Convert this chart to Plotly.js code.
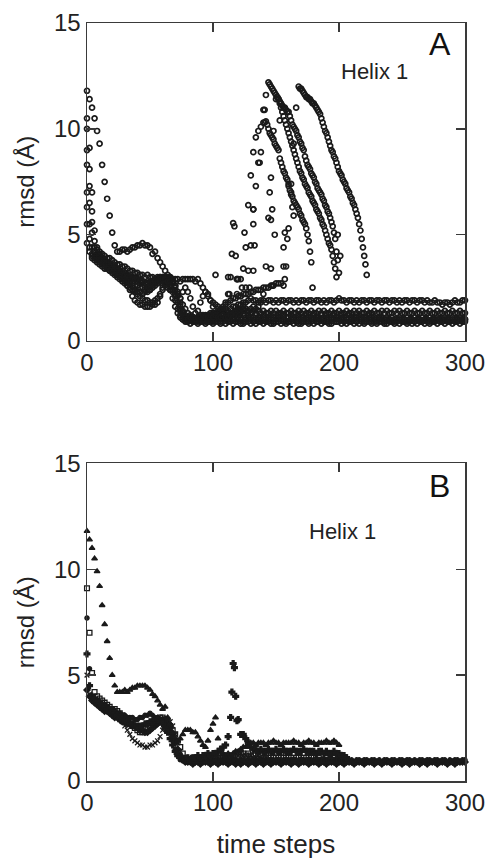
<!DOCTYPE html>
<html>
<head>
<meta charset="utf-8">
<script src="https://cdn.plot.ly/plotly-3.0.1.min.js"></script>
<style>
  html, body { margin: 0; padding: 0; background: #fff; }
  #chart { width: 490px; height: 859px; }
</style>
</head>
<body>
<div id="chart"></div>
<script>
// Sampling grid shared by all trajectories (time steps, every 2nd step)
const timeSteps = [
  0, 2, 4, 6, 8, 10, 12, 14, 16, 18,
  20, 22, 24, 26, 28, 30, 32, 34, 36, 38,
  40, 42, 44, 46, 48, 50, 52, 54, 56, 58,
  60, 62, 64, 66, 68, 70, 72, 74, 76, 78,
  80, 82, 84, 86, 88, 90, 92, 94, 96, 98,
  100, 102, 104, 106, 108, 110, 112, 114, 116, 118,
  120, 122, 124, 126, 128, 130, 132, 134, 136, 138,
  140, 142, 144, 146, 148, 150, 152, 154, 156, 158,
  160, 162, 164, 166, 168, 170, 172, 174, 176, 178,
  180, 182, 184, 186, 188, 190, 192, 194, 196, 198,
  200, 202, 204, 206, 208, 210, 212, 214, 216, 218,
  220, 222, 224, 226, 228, 230, 232, 234, 236, 238,
  240, 242, 244, 246, 248, 250, 252, 254, 256, 258,
  260, 262, 264, 266, 268, 270, 272, 274, 276, 278,
  280, 282, 284, 286, 288, 290, 292, 294, 296, 298,
  300
];

// ---------- Panel A: rmsd (Å) of each run ----------
const runA1 = [
  11.8, 11.4, 11.0, 10.5, 9.9, 9.3, 8.3, 7.5, 6.7, 5.9,
  5.1, 4.5, 4.2, 4.2, 4.3, 4.3, 4.2, 4.3, 4.4, 4.4,
  4.5, 4.5, 4.6, 4.5, 4.5, 4.4, 4.1, 4.2, 3.9, 3.7,
  3.5, 3.3, 3.1, 3.0, 2.9, 2.9, 2.9, 2.8, 2.9, 2.9,
  2.9, 2.9, 2.9, 2.8, 2.9, 2.7, 2.5, 2.3, 2.1, 1.9,
  1.8, 1.7, 1.6, 1.5, 1.4, 1.5, 1.4, 1.5, 1.6, 1.6,
  1.7, 1.7, 1.8, 1.8, 1.9, 2.0, 1.9, 1.9, 1.8, 1.9,
  1.9, 1.8, 1.9, 1.9, 1.8, 1.9, 1.8, 1.9, 1.9, 1.8,
  1.9, 1.9, 1.8, 1.9, 1.8, 1.9, 1.9, 1.8, 1.9, 1.9,
  1.8, 1.9, 1.9, 1.8, 1.9, 1.8, 1.9, 1.9, 1.8, 1.9,
  2.0, 1.9, 1.9, 1.8, 1.9, 1.9, 1.8, 1.9, 1.8, 1.9,
  1.9, 1.8, 1.9, 1.9, 1.8, 1.9, 1.9, 1.8, 1.9, 1.9,
  1.8, 1.9, 1.9, 1.8, 1.9, 1.8, 1.9, 1.9, 1.8, 1.9,
  1.9, 1.8, 1.9, 1.9, 1.8, 1.9, 1.8, 1.8, 1.9, 1.8,
  1.8, 1.7, 1.8, 1.8, 1.7, 1.8, 1.9, 1.8, 1.8, 1.9,
  1.9
];
const runA2 = [
  10.0, 8.1, 6.1, 4.7, 4.3, 4.2, 4.1, 4.0, 3.9, 3.9,
  3.8, 3.7, 3.6, 3.6, 3.5, 3.5, 3.4, 3.3, 3.3, 3.2,
  3.2, 3.1, 3.1, 3.0, 3.1, 3.0, 3.0, 2.9, 3.0, 2.9,
  2.9, 2.8, 2.7, 2.4, 2.0, 1.6, 1.3, 1.1, 1.0, 1.0,
  0.9, 1.0, 0.9, 1.0, 1.0, 0.9, 1.0, 0.9, 0.9, 1.0,
  0.9, 1.0, 1.0, 0.9, 1.0, 1.0, 0.9, 1.0, 1.0, 0.9,
  1.0, 1.0, 0.9, 1.0, 1.1, 1.0, 0.9, 1.0, 1.0, 0.9,
  1.0, 0.9, 1.0, 1.0, 0.9, 1.0, 1.1, 1.0, 1.0, 0.9,
  0.9, 1.0, 1.0, 0.9, 1.0, 0.9, 1.0, 1.0, 0.9, 1.0,
  1.0, 0.9, 1.0, 1.0, 0.9, 1.0, 0.9, 1.0, 1.0, 0.9,
  1.0, 1.0, 0.9, 1.0, 0.9, 1.0, 1.0, 0.9, 1.0, 1.0,
  0.9, 1.0, 1.0, 0.9, 1.0, 0.9, 1.0, 1.0, 0.9, 1.0,
  1.0, 0.9, 0.9, 1.0, 1.0, 0.9, 1.0, 0.9, 1.0, 1.0,
  0.9, 1.0, 1.0, 0.9, 1.0, 1.0, 0.9, 1.0, 0.9, 1.0,
  1.0, 0.9, 1.0, 1.0, 0.9, 1.0, 0.9, 1.0, 1.0, 0.9,
  1.0
];
const runA3 = [
  9.0, 7.3, 5.6, 4.4, 4.1, 4.0, 3.9, 3.8, 3.7, 3.6,
  3.5, 3.4, 3.3, 3.2, 3.1, 3.0, 2.9, 2.7, 2.6, 2.4,
  2.3, 2.3, 2.2, 2.3, 2.3, 2.4, 2.6, 2.8, 2.9, 3.0,
  3.0, 3.0, 2.9, 2.9, 2.8, 2.6, 2.3, 2.0, 1.7, 1.5,
  1.3, 1.2, 1.1, 1.0, 1.0, 1.1, 1.0, 1.0, 1.1, 1.0,
  1.1, 1.1, 1.2, 1.1, 1.2, 1.2, 1.3, 1.2, 1.3, 1.4,
  1.5, 2.9, 3.4, 4.4, 6.4, 7.8, 8.9, 9.6, 9.9, 10.1,
  10.3
];
// unfolding excursion of run A3, sampled every step
const peakA3_t = [
  141, 142, 143, 144, 145, 146, 147, 148, 149, 150,
  151, 152, 153, 154, 155, 156, 157, 158, 159, 160,
  161, 162, 163, 164, 165, 166, 167, 168, 169, 170,
  171, 172, 173, 174, 175, 176, 177, 178, 179
];
const peakA3_rmsd = [
  10.3, 10.35, 10.2, 10.0, 9.8, 9.7, 9.6, 9.5, 9.3, 9.2,
  9.1, 9.0, 8.6, 8.4, 8.2, 8.0, 7.9, 7.7, 7.6, 7.4,
  7.1, 7.0, 6.8, 6.6, 6.5, 6.4, 6.3, 6.2, 6.0, 5.9,
  5.7, 5.6, 5.5, 5.3, 5.0, 4.7, 4.2, 3.7, 2.5
];
const runA4 = [
  8.3, 6.5, 5.1, 4.2, 4.0, 3.9, 3.8, 3.7, 3.6, 3.5,
  3.4, 3.3, 3.2, 3.1, 3.0, 2.8, 2.6, 2.4, 2.1, 1.9,
  1.8, 1.7, 1.7, 1.6, 1.6, 1.6, 1.7, 1.7, 1.8, 2.1,
  2.4, 2.7, 2.9, 3.0, 2.9, 2.6, 2.2, 1.8, 1.4, 1.2,
  1.0, 1.0, 1.1, 1.0, 0.9, 1.0, 1.0, 1.1, 1.0, 0.9,
  1.0, 1.1, 1.0, 1.1, 1.2, 1.1, 1.2, 1.2, 1.3, 1.2,
  1.3, 1.4, 1.5, 2.5, 3.3, 4.5, 6.2, 7.3, 8.4, 8.9,
  10.9, 11.6, 12.2
];
const peakA4_t = [
  145, 146, 147, 148, 149, 150, 151, 152, 153, 154,
  155, 156, 157, 158, 159, 160, 161, 162, 163, 164,
  165, 166, 167, 168, 169, 170, 171, 172, 173, 174,
  175, 176, 177, 178, 179, 180, 181, 182, 183, 184,
  185, 186, 187, 188, 189, 190, 191, 192, 193, 194,
  195, 196, 197, 198, 199, 200
];
const peakA4_rmsd = [
  12.1, 12.0, 11.9, 11.8, 11.7, 11.6, 11.5, 11.4, 11.3, 11.2,
  11.1, 11.0, 11.0, 10.9, 10.8, 10.8, 10.6, 10.4, 10.2, 10.1,
  10.0, 9.9, 9.7, 9.6, 9.4, 9.3, 9.1, 9.0, 8.7, 8.5,
  8.3, 8.2, 8.1, 7.9, 7.8, 7.7, 7.5, 7.4, 7.2, 7.1,
  7.0, 6.9, 6.7, 6.6, 6.4, 6.3, 6.1, 6.0, 5.8, 5.6,
  5.4, 5.1, 4.8, 4.2, 3.8, 3.2
];
const runA5 = [
  10.5, 9.1, 7.0, 5.2, 4.4, 4.1, 3.9, 3.8, 3.7, 3.6,
  3.5, 3.4, 3.4, 3.3, 3.2, 3.1, 3.1, 3.0, 3.0, 2.9,
  2.9, 2.8, 2.8, 2.7, 2.7, 2.6, 2.7, 2.7, 2.8, 2.8,
  2.7, 2.6, 2.5, 2.4, 2.4, 2.2, 1.8, 1.4, 1.1, 1.0,
  1.0, 1.1, 1.0, 1.0, 1.1, 1.2, 1.1, 1.2, 1.2, 1.3,
  1.3, 1.2, 1.3, 1.4, 1.5, 1.8, 2.2, 3.0, 5.55, 4.0,
  2.9, 2.1, 1.7, 1.5, 1.4, 1.3, 1.4, 1.3, 1.4, 1.3,
  1.4, 1.3, 1.3, 1.4, 1.3, 1.4, 1.3, 1.3, 1.4, 1.3,
  1.3, 1.4, 1.3, 1.3, 1.4, 1.3, 1.4, 1.3, 1.3, 1.4,
  1.3, 1.3, 1.4, 1.3, 1.4, 1.3, 1.3, 1.4, 1.3, 1.3,
  1.4, 1.3, 1.3, 1.4, 1.3, 1.3, 1.4, 1.3, 1.4, 1.3,
  1.3, 1.4, 1.3, 1.3, 1.4, 1.3, 1.3, 1.4, 1.3, 1.4,
  1.3, 1.3, 1.4, 1.3, 1.4, 1.3, 1.3, 1.4, 1.3, 1.3,
  1.4, 1.3, 1.3, 1.4, 1.3, 1.3, 1.4, 1.3, 1.3, 1.4,
  1.3, 1.3, 1.4, 1.3, 1.3, 1.4, 1.3, 1.3, 1.4, 1.3,
  1.3
];
const runA6 = [
  7.0, 5.5, 4.4, 4.2, 4.1, 4.0, 3.9, 3.8, 3.7, 3.6,
  3.6, 3.5, 3.4, 3.3, 3.3, 3.2, 3.1, 3.0, 3.0, 2.9,
  2.9, 2.8, 2.8, 2.7, 2.7, 2.8, 2.8, 2.9, 2.9, 3.0,
  3.0, 2.9, 2.8, 2.6, 2.4, 2.1, 1.8, 1.5, 1.2, 1.1,
  1.0, 1.0, 1.1, 1.0, 1.1, 1.0, 1.1, 1.1, 1.2, 1.1,
  1.2, 1.3, 1.4, 1.5, 1.6, 1.7, 1.8, 1.9, 2.0, 2.0,
  2.1, 2.1, 2.2, 2.2, 2.2, 2.3, 2.3, 2.4, 2.4, 2.4,
  2.5, 2.5, 2.5, 2.6, 2.6, 2.7, 2.7, 2.7, 2.6, 3.5,
  5.3, 7.4, 9.3, 11.0, 12.0
];
const peakA6_t = [
  169, 170, 171, 172, 173, 174, 175, 176, 177, 178,
  179, 180, 181, 182, 183, 184, 185, 186, 187, 188,
  189, 190, 191, 192, 193, 194, 195, 196, 197, 198,
  199, 200, 201, 202, 203, 204, 205, 206, 207, 208,
  209, 210, 211, 212, 213, 214, 215, 216, 217, 218,
  219, 220, 221, 222
];
const peakA6_rmsd = [
  11.9, 11.9, 11.8, 11.7, 11.6, 11.5, 11.5, 11.4, 11.4, 11.3,
  11.2, 11.2, 11.1, 11.0, 10.9, 10.8, 10.7, 10.5, 10.3, 10.1,
  9.9, 9.8, 9.6, 9.4, 9.2, 9.0, 8.9, 8.7, 8.6, 8.4,
  8.2, 8.0, 7.9, 7.8, 7.6, 7.5, 7.4, 7.2, 7.1, 7.0,
  6.8, 6.7, 6.5, 6.4, 6.2, 6.0, 5.8, 5.5, 5.2, 4.8,
  4.4, 4.0, 3.6, 3.1
];
const runA7 = [
  6.3, 4.8, 4.1, 4.0, 3.9, 3.8, 3.7, 3.6, 3.5, 3.5,
  3.4, 3.4, 3.3, 3.2, 3.1, 3.1, 3.0, 3.0, 2.9, 2.9,
  2.8, 2.8, 2.8, 2.7, 2.7, 2.7, 2.7, 2.8, 2.8, 2.9,
  2.9, 3.0, 3.0, 2.9, 2.7, 2.4, 2.2, 2.0, 2.3, 2.5,
  2.3, 2.0, 1.6, 1.3, 1.4, 1.8, 2.1, 2.3, 2.2, 1.9,
  1.6, 1.3, 1.2, 1.1, 1.2, 1.1, 1.2, 1.3, 1.2, 1.3,
  1.4, 1.3, 1.4, 1.5, 1.4, 1.5, 1.6, 1.5, 1.6, 1.8,
  2.2, 3.5, 5.8, 7.7, 9.9, 11.4
];
const peakA7_t = [
  151, 152, 153, 154, 155, 156, 157, 158, 159, 160,
  161, 162, 163, 164, 165, 166, 167, 168, 169, 170,
  171, 172, 173, 174, 175, 176, 177, 178, 179, 180,
  181, 182, 183, 184, 185, 186, 187, 188, 189, 190,
  191, 192, 193, 194, 195, 196, 197, 198
];
const peakA7_rmsd = [
  11.5, 11.4, 11.2, 11.0, 10.8, 10.6, 10.4, 10.2, 10.0, 9.8,
  9.6, 9.4, 9.2, 9.0, 8.8, 8.6, 8.4, 8.2, 8.0, 7.9,
  7.7, 7.6, 7.4, 7.3, 7.2, 7.0, 6.9, 6.8, 6.6, 6.5,
  6.4, 6.2, 6.1, 6.0, 5.8, 5.7, 5.5, 5.4, 5.2, 5.0,
  4.8, 4.6, 4.5, 4.3, 4.0, 3.7, 3.4, 3.0
];
const runA8 = [
  5.5, 4.4, 4.0, 3.9, 3.8, 3.7, 3.6, 3.5, 3.4, 3.3,
  3.3, 3.2, 3.1, 3.0, 2.9, 2.9, 2.8, 2.7, 2.7, 2.6,
  2.6, 2.5, 2.5, 2.4, 2.4, 2.4, 2.5, 2.6, 2.7, 2.8,
  2.9, 2.9, 2.8, 2.6, 2.3, 1.9, 1.5, 1.2, 1.0, 0.9,
  0.9, 0.8, 0.9, 0.9, 0.8, 0.9, 0.9, 0.8, 0.9, 0.9,
  0.8, 0.9, 0.9, 0.8, 0.9, 0.8, 0.9, 0.9, 0.8, 0.9,
  0.9, 0.8, 0.8, 0.9, 0.9, 0.8, 0.9, 0.8, 0.9, 0.9,
  0.8, 0.9, 0.9, 0.8, 0.8, 0.9, 0.9, 0.8, 0.9, 0.8,
  0.9, 0.9, 0.8, 0.9, 0.8, 0.8, 0.9, 0.9, 0.8, 0.9,
  0.8, 0.9, 0.9, 0.8, 0.9, 0.9, 0.8, 0.8, 0.9, 0.9,
  0.9, 0.8, 0.9, 0.8, 0.9, 0.9, 0.8, 0.9, 0.8, 0.9,
  0.8, 0.9, 0.9, 0.8, 0.9, 0.8, 0.9, 0.9, 0.8, 0.8,
  0.9, 0.9, 0.8, 0.9, 0.8, 0.9, 0.9, 0.8, 0.9, 0.8,
  0.9, 0.8, 0.9, 0.9, 0.8, 0.9, 0.8, 0.9, 0.9, 0.8,
  0.9, 0.9, 0.8, 0.9, 0.9, 0.8, 0.9, 0.9, 0.8, 0.9,
  0.9
];
const runA9 = [
  4.6, 4.2, 3.9, 3.8, 3.7, 3.6, 3.5, 3.4, 3.4, 3.3,
  3.2, 3.1, 3.0, 2.9, 2.8, 2.7, 2.6, 2.5, 2.4, 2.3,
  2.2, 2.1, 2.0, 1.9, 1.9, 1.8, 1.8, 1.9, 2.0, 2.2,
  2.5, 2.7, 2.8, 2.8, 2.7, 2.5, 2.1, 1.7, 1.3, 1.1,
  1.0, 1.1, 1.1, 1.0, 1.1, 1.1, 1.2, 1.1, 1.1, 1.2,
  1.1, 1.2, 1.1, 1.1, 1.2, 1.1, 1.1, 1.2, 1.1, 1.2,
  1.1, 1.1, 1.2, 1.1, 1.2, 1.1, 1.1, 1.2, 1.1, 1.1,
  1.2, 1.1, 1.1, 1.2, 1.1, 1.1, 1.2, 1.1, 1.2, 1.1,
  1.1, 1.2, 1.1, 1.1, 1.2, 1.1, 1.1, 1.2, 1.1, 1.1,
  1.2, 1.1, 1.1, 1.2, 1.1, 1.2, 1.1, 1.1, 1.2, 1.1,
  1.1, 1.2, 1.1, 1.1, 1.2, 1.1, 1.1, 1.1, 1.2, 1.1,
  1.1, 1.1, 1.2, 1.1, 1.1, 1.0, 1.1, 1.1, 1.0, 1.1,
  1.0, 1.1, 1.0, 1.0, 1.1, 1.0, 1.0, 1.1, 1.0, 1.0,
  1.1, 1.0, 1.0, 1.1, 1.0, 1.0, 1.1, 1.0, 1.0, 1.1,
  1.0, 1.0, 1.1, 1.0, 1.0, 1.1, 1.0, 1.0, 1.1, 1.0,
  1.0
];
// isolated samples caught during fast jumps (panel A)
const jumpsA_t = [
  115, 117, 119, 102, 112, 119, 113, 119, 125, 132,
  132, 133, 132, 129, 123, 137, 141, 153, 145, 147,
  149, 146, 157, 159, 160, 162, 163, 164, 146, 147,
  157, 156, 156, 201, 199
];
const jumpsA_rmsd = [
  4.1, 5.4, 2.9, 3.1, 3.0, 2.9, 2.2, 2.2, 5.1, 5.5,
  6.2, 4.5, 3.3, 2.5, 2.5, 8.4, 10.9, 10.4, 7.0, 6.2,
  5.0, 5.7, 5.1, 4.8, 7.3, 6.9, 6.3, 5.9, 3.4, 2.6,
  2.9, 4.4, 3.5, 4.0, 5.0
];

// ---------- Panel B: rmsd (Å) of each run ----------
const runB1 = [
  11.8, 11.4, 11.0, 10.5, 9.9, 9.2, 8.3, 7.4, 6.6, 5.8,
  5.0, 4.5, 4.2, 4.2, 4.2, 4.3, 4.2, 4.3, 4.4, 4.4,
  4.5, 4.5, 4.5, 4.5, 4.4, 4.3, 4.1, 4.0, 3.8, 3.6,
  3.4, 3.5, 3.0, 2.7, 2.3, 2.0, 1.9, 2.0, 2.2, 2.4,
  2.4, 2.4, 2.3, 2.3, 2.1, 1.9, 1.7, 1.6, 1.9, 2.4,
  2.7, 3.0, 2.0, 1.5, 1.3, 1.2, 1.3, 1.2, 1.3, 1.4,
  1.4, 1.5, 1.6, 1.6, 1.7, 1.8, 1.8, 1.7, 1.8, 1.8,
  1.8, 1.7, 1.8, 1.8, 1.9, 1.8, 1.8, 1.7, 1.8, 1.8,
  1.8, 1.8, 1.9, 1.8, 1.8, 1.7, 1.8, 1.8, 1.9, 1.8,
  1.8, 1.7, 1.8, 1.8, 1.8, 1.9, 1.8, 1.8, 1.9, 1.8,
  1.7
];
const runB2 = [
  9.1, 7.0, 5.1, 4.2, 4.0, 3.9, 3.8, 3.7, 3.6, 3.5,
  3.4, 3.4, 3.3, 3.2, 3.1, 3.0, 2.9, 2.7, 2.6, 2.5,
  2.4, 2.3, 2.3, 2.3, 2.4, 2.5, 2.6, 2.8, 2.9, 3.0,
  3.0, 2.9, 2.8, 2.6, 2.4, 2.2, 1.9, 1.6, 1.3, 1.1,
  1.0, 1.0, 1.1, 1.0, 1.0, 1.1, 1.0, 1.0, 1.1, 1.0,
  1.1, 1.1, 1.2, 1.1, 1.2, 1.2, 1.1, 1.2, 1.2, 1.3,
  1.2, 1.3, 1.3, 1.2, 1.3, 1.2, 1.2, 1.3, 1.2, 1.2,
  1.1, 1.2, 1.1, 1.2, 1.1, 1.1, 1.2, 1.1, 1.1, 1.2,
  1.1, 1.1, 1.0, 1.1, 1.1, 1.0, 1.1, 1.1, 1.0, 1.1,
  1.1, 1.0, 1.1, 1.0, 1.0, 1.1, 1.0, 1.0, 1.1, 1.0,
  1.0, 1.0, 1.0, 1.0
];
const runB3 = [
  7.7, 5.3, 4.0, 3.9, 3.8, 3.7, 3.6, 3.6, 3.5, 3.4,
  3.4, 3.3, 3.2, 3.2, 3.1, 3.1, 3.0, 3.0, 3.0, 2.9,
  2.9, 3.0, 3.0, 3.1, 3.1, 3.2, 3.1, 3.0, 3.0, 2.9,
  2.9, 2.8, 2.6, 2.3, 1.9, 1.5, 1.2, 1.0, 1.0, 0.9,
  1.0, 0.9, 1.0, 1.0, 0.9, 1.0, 0.9, 1.0, 1.0, 0.9,
  1.0, 1.0, 0.9, 1.0, 0.9, 1.0, 1.0, 0.9, 1.0, 1.0,
  0.9, 1.0, 1.0, 0.9, 1.0, 0.9, 1.0, 1.0, 0.9, 1.0,
  1.0, 0.9, 1.0, 1.0, 0.9, 1.0, 1.0, 0.9, 1.0, 0.9,
  1.0, 1.0, 0.9, 1.0, 0.9, 1.0, 1.0, 0.9, 1.0, 1.0,
  0.9, 1.0, 1.0, 0.9, 1.0, 1.0, 0.9, 1.0, 0.9, 1.0,
  1.0, 0.9, 1.0, 1.0, 0.9, 1.0, 0.9, 1.0, 1.0, 0.9,
  1.0, 1.0, 0.9, 1.0, 1.0, 0.9, 1.0, 0.9, 1.0, 1.0,
  0.9, 1.0, 1.0, 0.9, 1.0, 1.0, 0.9, 1.0, 1.0, 0.9,
  1.0, 0.9, 1.0, 1.0, 0.9, 1.0, 1.0, 0.9, 1.0, 1.0,
  0.9, 1.0, 1.0, 0.9, 1.0, 0.9, 1.0, 1.0, 0.9, 1.0,
  1.0
];
const runB4 = [
  6.0, 4.5, 4.0, 3.9, 3.8, 3.7, 3.6, 3.5, 3.4, 3.3,
  3.3, 3.2, 3.1, 3.0, 2.9, 2.8, 2.8, 2.7, 2.7, 2.6,
  2.6, 2.6, 2.6, 2.7, 2.7, 2.8, 2.8, 2.9, 2.9, 2.8,
  2.7, 2.5, 2.3, 2.0, 1.7, 1.4, 1.2, 1.1, 1.0, 1.0,
  1.1, 1.0, 1.1, 1.1, 1.2, 1.1, 1.2, 1.2, 1.3, 1.2,
  1.3, 1.3, 1.4, 1.5, 1.6, 1.7, 2.1, 3.0, 5.55, 4.0,
  2.9, 2.2, 2.2, 2.0, 1.8, 1.6, 1.5, 1.5, 1.4, 1.5,
  1.4, 1.4, 1.5, 1.4, 1.4, 1.5, 1.4, 1.4, 1.5, 1.4,
  1.4, 1.4, 1.5, 1.4, 1.4, 1.4, 1.5, 1.4, 1.4, 1.4,
  1.4, 1.3, 1.4, 1.4, 1.3, 1.4, 1.3, 1.3, 1.4, 1.3,
  1.3, 1.2, 1.2, 1.1
];
const runB5 = [
  5.0, 4.1, 3.9, 3.8, 3.7, 3.6, 3.5, 3.4, 3.3, 3.3,
  3.2, 3.1, 3.0, 2.9, 2.8, 2.6, 2.4, 2.2, 2.0, 1.9,
  1.8, 1.7, 1.7, 1.6, 1.6, 1.7, 1.7, 1.8, 1.9, 2.1,
  2.4, 2.6, 2.8, 2.8, 2.6, 2.2, 1.8, 1.4, 1.1, 1.0,
  0.9, 1.0, 1.0, 0.9, 1.0, 1.0, 0.9, 1.0, 1.0, 1.1,
  1.0, 1.1, 1.1, 1.0, 1.1, 1.2, 1.1, 1.2, 1.2, 1.3,
  1.2, 1.3, 1.2, 1.2, 1.1, 1.2, 1.1, 1.1, 1.2, 1.1,
  1.0, 1.1, 1.0, 1.0, 0.9, 1.0, 1.0, 0.9, 1.0, 1.0,
  0.9, 0.9, 1.0, 0.9, 0.9, 0.9, 1.0, 0.9, 0.9, 1.0,
  0.9, 0.9, 1.0, 0.9, 0.9, 1.0, 0.9, 0.9, 0.9, 1.0,
  0.9, 0.9, 1.0
];
const runB6 = [
  4.3, 4.0, 3.8, 3.7, 3.6, 3.5, 3.4, 3.3, 3.3, 3.2,
  3.1, 3.0, 3.0, 2.9, 2.8, 2.8, 2.7, 2.7, 2.6, 2.6,
  2.5, 2.4, 2.4, 2.3, 2.3, 2.4, 2.5, 2.6, 2.7, 2.8,
  2.9, 2.9, 2.7, 2.5, 2.2, 1.8, 1.5, 1.2, 1.0, 0.9,
  0.9, 0.9, 0.8, 0.9, 0.9, 0.8, 0.9, 0.9, 0.9, 0.8,
  0.9, 0.9, 0.8, 0.9, 0.9, 0.9, 0.8, 0.9, 0.9, 0.8,
  0.9, 0.8, 0.9, 0.9, 0.8, 0.9, 0.9, 0.8, 0.9, 0.9,
  0.8, 0.9, 0.9, 0.8, 0.9, 0.9, 0.9, 0.8, 0.9, 0.9,
  0.9, 0.8, 0.9, 0.9, 0.8, 0.9, 0.9, 0.9, 0.8, 0.9,
  0.9, 0.9, 0.8, 0.9, 0.9, 0.8, 0.9, 0.9, 0.9, 0.8,
  0.9, 0.9, 0.8, 0.9, 0.9, 0.9, 0.8, 0.9, 0.9, 0.9,
  0.8, 0.9, 0.9, 0.9, 0.8, 0.9, 0.9, 0.8, 0.9, 0.9,
  0.9, 0.8, 0.9, 0.9, 0.9, 0.8, 0.9, 0.9, 0.8, 0.9,
  0.9, 0.9, 0.8, 0.9, 0.9, 0.8, 0.9, 0.9, 0.9, 0.8,
  0.9, 0.9, 0.9, 0.8, 0.9, 0.9, 0.8, 0.9, 0.9, 0.9,
  0.9
];
// isolated samples of the short excursion in run B4
const jumpsB_t = [117, 115, 119];
const jumpsB_rmsd = [5.35, 4.2, 2.85];

// ---------- drawing ----------
const ink = '#1a1a1a';
const onGrid = vals => timeSteps.slice(0, vals.length);

function circlesA(x, y) {
  return {
    type: 'scatter', mode: 'markers', x: x, y: y,
    xaxis: 'x', yaxis: 'y', cliponaxis: false, hoverinfo: 'skip',
    marker: { symbol: 'circle-open', size: 5, color: ink, line: { width: 1.7, color: ink } }
  };
}
function marksB(x, y, symbol, size) {
  return {
    type: 'scatter', mode: 'markers', x: x, y: y,
    xaxis: 'x2', yaxis: 'y2', cliponaxis: false, hoverinfo: 'skip',
    marker: { symbol: symbol, size: size, color: ink, line: { width: 1.3, color: ink } }
  };
}

const traces = [
  circlesA(onGrid(runA1), runA1),
  circlesA(onGrid(runA2), runA2),
  circlesA(onGrid(runA3).concat(peakA3_t), runA3.concat(peakA3_rmsd)),
  circlesA(onGrid(runA4).concat(peakA4_t), runA4.concat(peakA4_rmsd)),
  circlesA(onGrid(runA5), runA5),
  circlesA(onGrid(runA6).concat(peakA6_t), runA6.concat(peakA6_rmsd)),
  circlesA(onGrid(runA7).concat(peakA7_t), runA7.concat(peakA7_rmsd)),
  circlesA(onGrid(runA8), runA8),
  circlesA(onGrid(runA9), runA9),
  circlesA(jumpsA_t, jumpsA_rmsd),

  marksB(onGrid(runB6), runB6, 'diamond', 4.8),
  marksB(onGrid(runB3), runB3, 'circle', 4.2),
  marksB(onGrid(runB5), runB5, 'x-thin-open', 4.8),
  marksB(onGrid(runB2), runB2, 'square-open', 4.8),
  marksB(onGrid(runB4), runB4, 'cross', 4.8),
  marksB(jumpsB_t, jumpsB_rmsd, 'cross', 4.8),
  marksB(onGrid(runB1), runB1, 'triangle-up', 5)
];

const frame = {
  showline: true, linecolor: '#3a3a3a', linewidth: 1.5, mirror: 'ticks',
  ticks: 'inside', ticklen: 9, tickwidth: 1.5, tickcolor: '#3a3a3a',
  showgrid: false, zeroline: false, fixedrange: true,
  tickfont: { size: 24, color: '#222' }
};
const xRange = { range: [0, 300], tickvals: [0, 100, 200, 300] };
const yRange = { range: [0, 15], tickvals: [0, 5, 10, 15] };
const xTitle = standoff => ({ text: 'time steps', font: { size: 26, color: '#222' }, standoff: standoff });
const yTitle = { text: 'rmsd (Å)', font: { size: 24, color: '#222' }, standoff: 12 };

const layout = {
  width: 490, height: 859,
  margin: { l: 87, r: 25, t: 23, b: 78 },
  paper_bgcolor: '#fff', plot_bgcolor: '#fff',
  showlegend: false,
  font: { family: 'Liberation Sans, Arial, sans-serif', color: '#222' },
  xaxis: Object.assign({}, frame, xRange, { anchor: 'y', domain: [0, 1], title: xTitle(4) }),
  yaxis: Object.assign({}, frame, yRange, { anchor: 'x', domain: [0.581, 1], title: yTitle }),
  xaxis2: Object.assign({}, frame, xRange, { anchor: 'y2', domain: [0, 1], title: xTitle(21) }),
  yaxis2: Object.assign({}, frame, yRange, { anchor: 'x2', domain: [0, 0.419], title: yTitle }),
  annotations: [
    { xref: 'x', yref: 'y', x: 280, y: 14.0, text: 'A', showarrow: false,
      font: { size: 32, color: '#111' } },
    { xref: 'x', yref: 'y', x: 228.5, y: 12.7, text: 'Helix 1', showarrow: false,
      font: { size: 22, color: '#222' } },
    { xref: 'x2', yref: 'y2', x: 280, y: 13.95, text: 'B', showarrow: false,
      font: { size: 32, color: '#111' } },
    { xref: 'x2', yref: 'y2', x: 202.5, y: 11.77, text: 'Helix 1', showarrow: false,
      font: { size: 22, color: '#222' } }
  ]
};

Plotly.newPlot('chart', traces, layout, { staticPlot: true, displayModeBar: false });
</script>
</body>
</html>
